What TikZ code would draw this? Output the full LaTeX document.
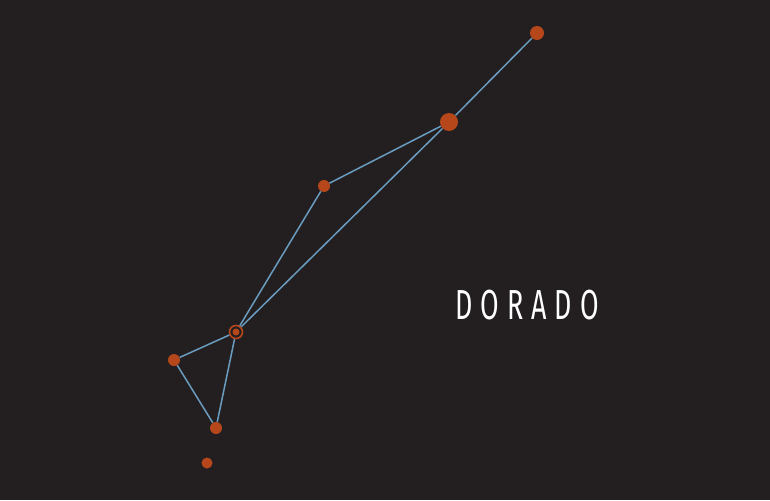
\documentclass[tikz,border=0pt]{standalone}
\usepackage{fontspec}
\newfontfamily\labelfont[LetterSpace=30]{Fira Sans}
\definecolor{bg}{HTML}{231F20}
\definecolor{star}{HTML}{B5471B}
\definecolor{con}{HTML}{6A9CC0}
\begin{document}
\begin{tikzpicture}[x=1pt,y=-1pt,
  starnode/.style={circle,fill=star,inner sep=0pt,minimum size=#1},
  conline/.style={draw=con,line width=1.5pt}]
\fill[bg] (0,0) rectangle (770,500);
\useasboundingbox (0,0) rectangle (770,500);
\node[starnode=14pt] (a) at (537,33) {};
\node[starnode=18pt] (b) at (449,122) {};
\node[starnode=12pt] (c) at (324,186) {};
\node[circle,draw=star,line width=1.6pt,fill=bg,minimum size=13pt,inner sep=0pt] (d) at (236,332) {};
\node[starnode=12pt] (e) at (174,360) {};
\node[starnode=12pt] (f) at (216,428) {};
\node[starnode=11pt] (g) at (207,463) {};
\draw[conline] (a) -- (b);
\draw[conline] (b) -- (c);
\draw[conline] (c) -- (d);
\draw[conline] (b) -- (d);
\draw[conline] (d) -- (e);
\draw[conline] (e) -- (f);
\draw[conline] (f) -- (d);
\node[circle,fill=star,inner sep=0pt,minimum size=7pt] (dc) at (d.center) {};
\node[text=white,inner sep=0pt,xscale=0.64] (lbl) at (527,305) {\labelfont\fontsize{42}{42}\selectfont DORADO};
\end{tikzpicture}
\end{document}
